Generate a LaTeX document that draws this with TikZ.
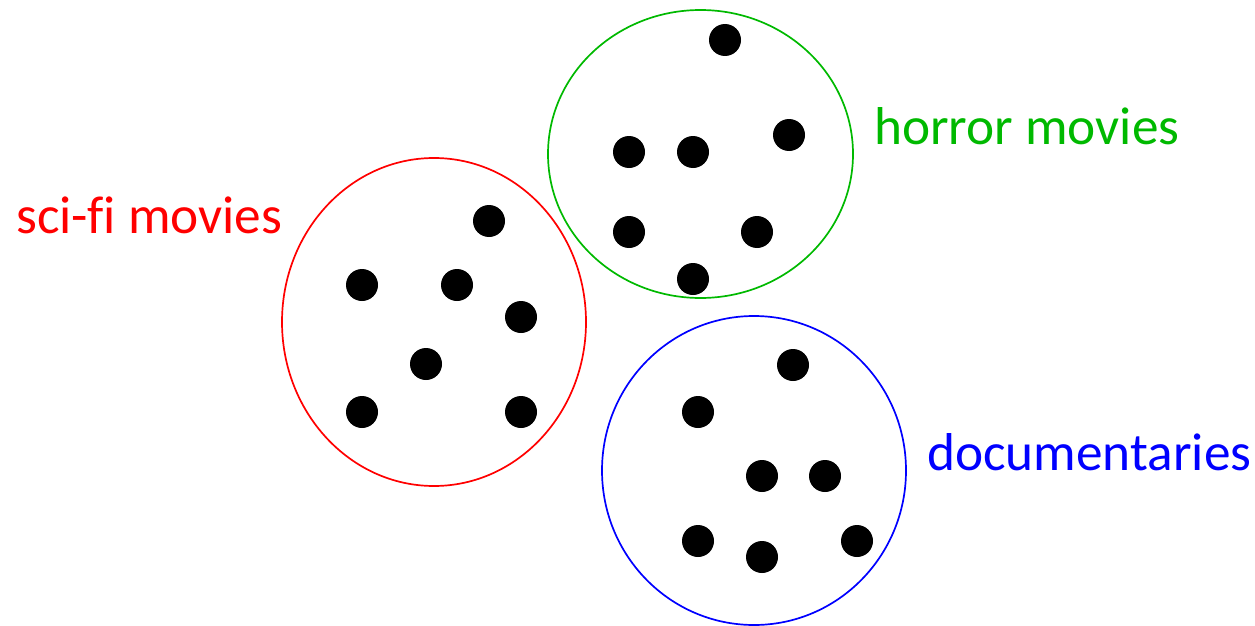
\documentclass[tikz,border=0pt]{standalone}
\usepackage{fontspec}
\setmainfont{Carlito}[Ligatures=NoCommon]
\definecolor{hgreen}{RGB}{0,185,0}
\definecolor{sred}{RGB}{255,0,0}
\definecolor{dblue}{RGB}{0,0,255}
\tikzset{
  dot/.style={circle,fill=black,inner sep=0pt,minimum size=32pt},
  group/.style={line width=1.7pt},
  lbl/.style={anchor=base west,inner sep=0pt,font=\fontsize{53.3}{60}\selectfont}
}
\begin{document}
\begin{tikzpicture}[x=1pt,y=-1pt]
\useasboundingbox (0,0) rectangle (1255,626);
% ellipses
\draw[group,sred] (434,322) ellipse [x radius=152, y radius=164];
\draw[group,hgreen] (700.5,154) ellipse [x radius=152.5, y radius=144];
\draw[group,dblue] (754,470.5) ellipse [x radius=152, y radius=154.5];
% sci-fi dots
\node[dot] (s1) at (489,221) {};
\node[dot] (s2) at (362,285) {};
\node[dot] (s3) at (457,285) {};
\node[dot] (s4) at (521,317) {};
\node[dot] (s5) at (426,364) {};
\node[dot] (s6) at (362,412) {};
\node[dot] (s7) at (521,412) {};
% horror dots
\node[dot] (h1) at (725,40) {};
\node[dot] (h2) at (789,135) {};
\node[dot] (h3) at (629,152) {};
\node[dot] (h4) at (693,152) {};
\node[dot] (h5) at (629,232) {};
\node[dot] (h6) at (757,232) {};
\node[dot] (h7) at (693,279) {};
% documentary dots
\node[dot] (d1) at (793,365) {};
\node[dot] (d2) at (698,412) {};
\node[dot] (d3) at (762,476) {};
\node[dot] (d4) at (825,476) {};
\node[dot] (d5) at (698,541) {};
\node[dot] (d6) at (762,557) {};
\node[dot] (d7) at (857,541) {};
% labels
\node[lbl,text=sred] (ls) at (16,233) {sci-fi movies};
\node[lbl,text=hgreen] (lh) at (874,144) {horror movies};
\node[lbl,text=dblue] (ld) at (927,470) {documentaries};
\end{tikzpicture}
\end{document}
